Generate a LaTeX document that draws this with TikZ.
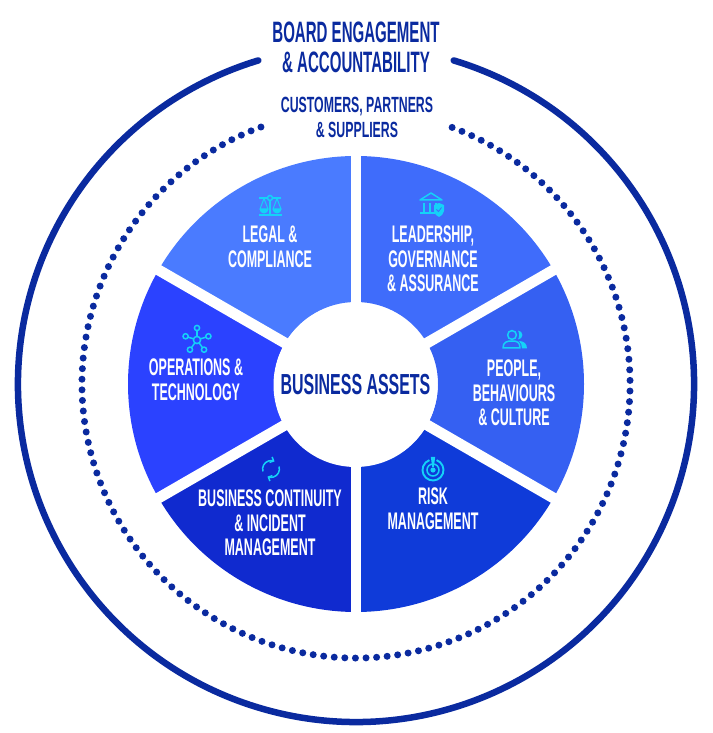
\documentclass[tikz,border=0pt]{standalone}
\usepackage{fontspec}
\usetikzlibrary{arrows.meta,calc}
\newfontfamily\lbfont[FakeStretch=0.52]{Liberation Sans}
\newfontfamily\hdfont[FakeStretch=0.51]{Liberation Sans}
\newfontfamily\subfont[FakeStretch=0.56]{Liberation Sans}
\newfontfamily\midfont[FakeStretch=0.55]{Liberation Sans}
\definecolor{navy}{HTML}{0A2A9F}
\definecolor{iconc}{HTML}{14D2F8}
\definecolor{cLegal}{HTML}{4A7BFF}
\definecolor{cLead}{HTML}{3F6CFB}
\definecolor{cPeople}{HTML}{3560F2}
\definecolor{cRisk}{HTML}{0F3BD9}
\definecolor{cCont}{HTML}{102ACF}
\definecolor{cOps}{HTML}{2B42FF}
\tikzset{
  wedge/.style={draw=none},
  gapline/.style={white,line width=10.8pt},
  seglabel/.style={text=white,align=center,font=\lbfont\bfseries\fontsize{24}{24.6}\selectfont,inner sep=0pt},
  headlabel/.style={text=navy,align=center,inner sep=0pt},
  ic/.style={draw=iconc,line width=1.5pt,fill=none},
  icf/.style={fill=iconc,draw=none}
}
\newcommand{\sector}[3]{\fill[#3,wedge] (356,349) ++(#1:228) arc[start angle=#1,end angle=#2,radius=228] -- ($(356,349)+(#2:82)$) arc[start angle=#2,end angle=#1,radius=82] -- cycle;}
\begin{document}
\begin{tikzpicture}[x=1pt,y=1pt]
\useasboundingbox (0,0) rectangle (712,733);
\coordinate (C) at (356,349);
% rings
\draw[navy,line width=6.5pt,line cap=round] (C) ++(73.2:338) arc[start angle=73.2,end angle=-253.2,radius=338];
\draw[navy,line width=7pt,line cap=round,dash pattern=on 0pt off 10.6pt] (C) ++(110.3:274) arc[start angle=110.3,end angle=429.7,radius=274];
% sectors
\sector{90}{150}{cLegal}
\sector{30}{90}{cLead}
\sector{-30}{30}{cPeople}
\sector{-90}{-30}{cRisk}
\sector{-150}{-90}{cCont}
\sector{150}{210}{cOps}
% gaps
\foreach \a/\n in {90/a,30/b,-30/c}{
  \coordinate (g\n1) at ($(C)+(\a:232)$);
  \coordinate (g\n2) at ($(C)+(\a+180:232)$);
  \draw[gapline] (g\n1) -- (g\n2);
}
\node[circle,fill=white,minimum size=164pt,inner sep=0pt,headlabel,font=\midfont\bfseries\fontsize{29}{30}\selectfont] (centre) at (355.5,348) {BUSINESS ASSETS};
% headings
\node[headlabel,font=\hdfont\bfseries\fontsize{29.5}{30}\selectfont] (board) at (356,686) {BOARD ENGAGEMENT\\[0pt]\& ACCOUNTABILITY};
\node[headlabel,font=\subfont\bfseries\fontsize{22}{25}\selectfont] (cust) at (357,616) {CUSTOMERS, PARTNERS\\\& SUPPLIERS};
% labels
\node[seglabel] (legal) at (270,486) {LEGAL \&\\COMPLIANCE};
\node[seglabel] (lead) at (433,474) {LEADERSHIP,\\GOVERNANCE\\\& ASSURANCE};
\node[seglabel] (people) at (514,340) {PEOPLE,\\BEHAVIOURS\\\& CULTURE};
\node[seglabel] (risk) at (433,224) {RISK\\MANAGEMENT};
\node[seglabel] (cont) at (270,210) {BUSINESS CONTINUITY\\\& INCIDENT\\MANAGEMENT};
\node[seglabel] (ops) at (196,353) {OPERATIONS \&\\TECHNOLOGY};
% scales icon
\begin{scope}[shift={(270,527)}]
  \draw[ic] (-11,8) -- (-2.5,8) (2.5,8) -- (11,8);
  \draw[ic] (0,8) circle (2.5);
  \draw[ic] (0,5.5) -- (0,-9) (-11,-9) -- (12,-9);
  \draw[ic,line width=1pt] (-6,7.5) -- (-10,-3) -- (-2,-3) -- cycle;
  \draw[ic,line width=1pt] (7,7.5) -- (3,-3) -- (11,-3) -- cycle;
  \fill[icf] (-10.5,-3) arc[start angle=180,end angle=360,radius=4.5] -- cycle;
  \fill[icf] (2.5,-3) arc[start angle=180,end angle=360,radius=4.5] -- cycle;
\end{scope}
% bank icon
\begin{scope}[shift={(431,530)}]
  \draw[ic,line join=round] (-11,3) -- (0,10) -- (11,3) -- cycle;
  \draw[ic] (-7,0) -- (-7,-9) (-1,0) -- (-1,-9) (5,0) -- (5,-4);
  \draw[ic] (-11,-10) -- (4,-10);
  \fill[icf] (3,-2) -- (8,0) -- (13,-2) -- (13,-8) .. controls (13,-11) and (10,-13) .. (8,-14) .. controls (6,-13) and (3,-11) .. (3,-8) -- cycle;
  \draw[cLead,line width=0.8pt] (5.5,-6.5) -- (7.5,-8.5) -- (10.5,-4.5);
\end{scope}
% people icon
\begin{scope}[shift={(514,394)}]
  \draw[ic] (-2,4) circle (4.4);
  \fill[icf] (4,8.4) arc[start angle=90,end angle=-90,radius=4.4] .. controls (5.5,2) and (5.5,6) .. cycle;
  \draw[ic,line join=round] (-11,-9) .. controls (-11,-3) and (-7,-2) .. (-2,-2) .. controls (3,-2) and (6,-3) .. (6,-9) -- cycle;
  \fill[icf] (5,-2) .. controls (10,-2) and (13,-5) .. (13,-9.5) -- (8,-9.5) .. controls (8,-6) and (7,-4) .. cycle;
\end{scope}
% network icon
\begin{scope}[shift={(197,393)}]
  \draw[ic] (0,0) circle (3.6);
  \foreach \a in {90,18,-54,-126,162}{
    \draw[ic] (\a:3.6) -- (\a:9.5);
    \draw[ic] (\a:12) circle (2.6);
  }
\end{scope}
% cycle icon
\begin{scope}[shift={(271,264)}]
  \draw[ic,-{Straight Barb[length=3pt,width=6pt]}] (197:8.4) arc[start angle=197,end angle=65,radius=8.4];
  \draw[ic,-{Straight Barb[length=3pt,width=6pt]}] (17:8.4) arc[start angle=17,end angle=-115,radius=8.4];
\end{scope}
% risk icon
\begin{scope}[shift={(433,263)}]
  \draw[ic,line width=1.9pt] (70:10.5) arc[start angle=70,end angle=-250,radius=10.5];
  \draw[ic] (0,0) circle (6);
  \fill[icf] (0,0) circle (2.6);
  \fill[icf] (-2.2,13) -- (2.2,13) -- (0.8,3) -- (-0.8,3) -- cycle;
\end{scope}
\end{tikzpicture}
\end{document}
